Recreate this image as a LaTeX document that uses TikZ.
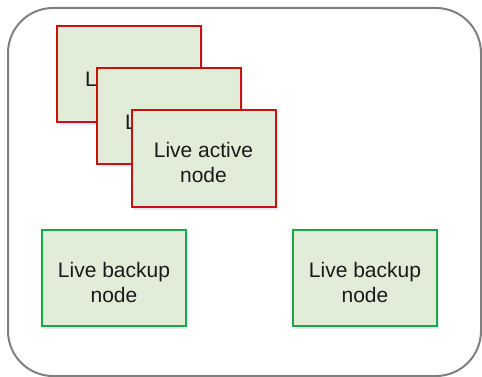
\documentclass[tikz,border=0pt]{standalone}
\usepackage{fontspec}
\setmainfont{Liberation Sans}
\usetikzlibrary{shadows}
\definecolor{boxfill}{RGB}{225,237,217}
\definecolor{activeline}{RGB}{204,16,16}
\definecolor{backupline}{RGB}{24,168,72}
\definecolor{frameline}{RGB}{128,128,128}
\definecolor{boxtext}{RGB}{26,26,26}
\tikzset{
    livebox/.style={draw,fill=boxfill,line width=2pt,minimum width=144pt,minimum height=96pt,
        align=center,text=boxtext,font=\fontsize{21}{25}\selectfont,
        text height=48pt,text depth=0pt,
        drop shadow={shadow xshift=2pt,shadow yshift=-3pt,opacity=0.12,fill=blue!50!gray}},
    active/.style={livebox,draw=activeline},
    backup/.style={livebox,draw=backupline},
    behind/.style={text width=88pt,align=left,text height=26pt,text depth=0pt}
}

\begin{document}
\begin{tikzpicture}[x=1pt,y=-1pt]
    \useasboundingbox (0,0) rectangle (482,377);
    \draw[frameline,line width=2pt,rounded corners=45pt] (8,8) rectangle (481,376);
    \node[active,behind] (active1) at (129,74) {\mbox{Live active}};
    \node[active,behind] (active2) at (169,116.5) {\mbox{Live active}};
    \node[active] (active3) at (203.5,158.5) {Live active\\node};
    \node[backup] (backup1) at (114,278) {Live backup\\node};
    \node[backup] (backup2) at (365,278) {Live backup\\node};
\end{tikzpicture}
\end{document}
